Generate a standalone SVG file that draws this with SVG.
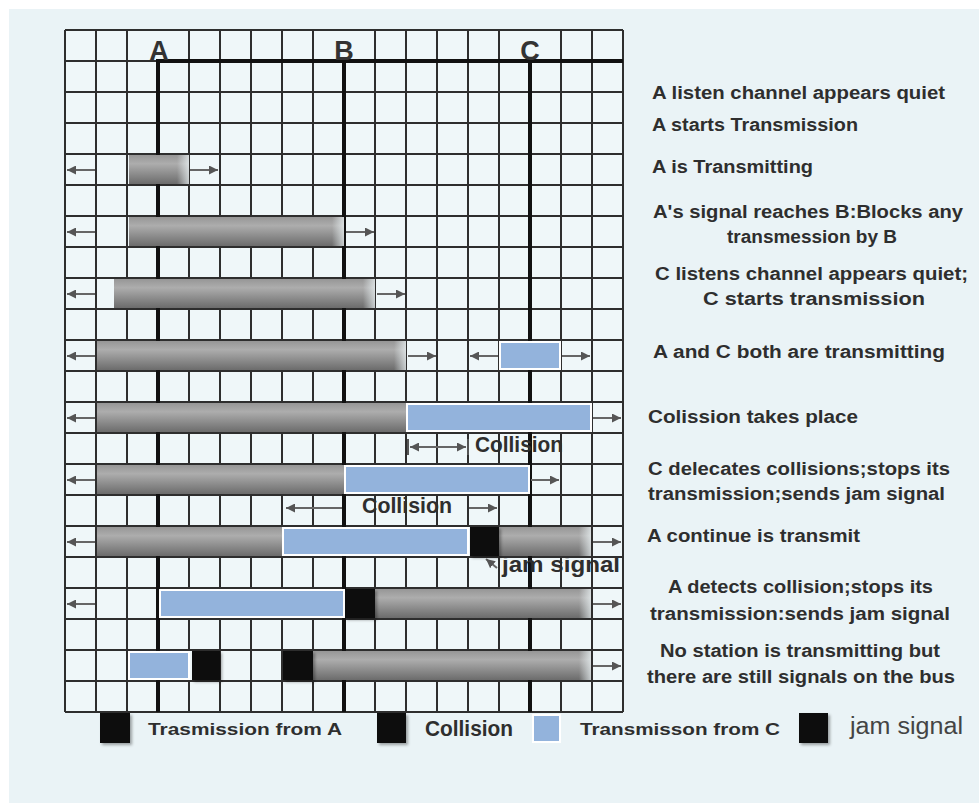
<svg xmlns="http://www.w3.org/2000/svg" width="979" height="803" viewBox="0 0 979 803">
  <defs>
    <linearGradient id="gBar" x1="0" y1="0" x2="0" y2="1">
      <stop offset="0" stop-color="#969696"/>
      <stop offset="0.3" stop-color="#adadad"/>
      <stop offset="1" stop-color="#6c6c6c"/>
    </linearGradient>
    <linearGradient id="gFade" x1="0" y1="0" x2="1" y2="0">
      <stop offset="0" stop-color="#eef6f8" stop-opacity="0"/>
      <stop offset="1" stop-color="#eef6f8" stop-opacity="0.7"/>
    </linearGradient>
    <marker id="head" viewBox="0 0 10 10" refX="10" refY="5" markerWidth="9" markerHeight="9" markerUnits="userSpaceOnUse" orient="auto-start-reverse">
      <path d="M0,0 L10,5 L0,10 z" fill="#555"/>
    </marker>
    <filter id="shadow" x="-20%" y="-20%" width="150%" height="150%">
      <feDropShadow dx="2" dy="2" stdDeviation="1.5" flood-color="#000" flood-opacity="0.35"/>
    </filter>
    <style>
      .grid { stroke: #2e2e2e; stroke-width: 2; fill: none; }
      .bus { stroke: #111; stroke-width: 4; fill: none; }
      .bar { fill: url(#gBar); }
      .fade { fill: url(#gFade); }
      .blue { fill: #93b3dc; stroke: #fff; stroke-width: 2; }
      .jam { fill: #111; filter: url(#shadow); }
      .arr { stroke: #666; stroke-width: 2; fill: none; marker-end: url(#head); }
      .arr2 { stroke: #666; stroke-width: 2; fill: none; marker-start: url(#head); marker-end: url(#head); }
      .tick { stroke: #555; stroke-width: 2; }
      .lbl { font-family: "Liberation Sans", Arial, sans-serif; font-weight: bold; font-size: 18px; fill: #2e2e2e; }
      .sta { font-family: "Liberation Sans", Arial, sans-serif; font-weight: bold; font-size: 27px; fill: #333; text-anchor: middle; }
      .note { font-family: "Liberation Sans", Arial, sans-serif; font-weight: bold; font-size: 22px; fill: #2e2e2e; }
      .leg { font-family: "Liberation Sans", Arial, sans-serif; font-weight: bold; font-size: 17px; fill: #2e2e2e; }
    </style>
  </defs>

  <!-- page and panel -->
  <rect x="0" y="0" width="979" height="803" fill="#ffffff"/>
  <rect x="9" y="9" width="970" height="794" fill="#eaf3f6"/>

  <!-- time grid: 18 columns x 22 rows of 31px; the station columns start below the header row -->
  <g id="grid">
    <rect x="65" y="30" width="558" height="682" fill="#eff7f9"/>
    <path class="grid" d="M65,30V712 M96,30V712 M127,30V712 M158,61V712 M189,30V712 M220,30V712 M251,30V712 M282,30V712 M313,30V712 M344,61V712 M375,30V712 M406,30V712 M437,30V712 M468,30V712 M499,30V712 M530,61V712 M561,30V712 M592,30V712 M623,30V712
      M65,30H623 M65,61H623 M65,92H623 M65,123H623 M65,154H623 M65,185H623 M65,216H623 M65,247H623 M65,278H623 M65,309H623 M65,340H623 M65,371H623 M65,402H623 M65,433H623 M65,464H623 M65,495H623 M65,526H623 M65,557H623 M65,588H623 M65,619H623 M65,650H623 M65,681H623 M65,712H623"/>
  </g>

  <!-- bus and station taps -->
  <g id="bus">
    <path class="bus" d="M158,712V61H623 M344,61V712 M530,61V712"/>
    <text class="sta" x="159" y="60">A</text>
    <text class="sta" x="344" y="60">B</text>
    <text class="sta" x="530" y="60">C</text>
  </g>

  <!-- signal bars, one group per time step -->
  <g id="t4">
    <rect class="bar" x="129" y="155" width="60" height="29"/>
    <rect class="fade" x="177" y="155" width="12" height="29"/>
  </g>
  <g id="t6">
    <rect class="bar" x="129" y="217" width="215" height="29"/>
    <rect class="fade" x="332" y="217" width="12" height="29"/>
  </g>
  <g id="t8">
    <rect class="bar" x="114" y="279" width="261" height="29"/>
    <rect class="fade" x="363" y="279" width="12" height="29"/>
  </g>
  <g id="t10">
    <rect class="bar" x="97" y="341" width="309" height="29"/>
    <rect class="fade" x="394" y="341" width="12" height="29"/>
    <rect class="blue" x="500" y="342" width="60" height="27"/>
  </g>
  <g id="t12">
    <rect class="bar" x="97" y="403" width="309" height="29"/>
    <rect class="blue" x="407" y="404" width="184" height="27"/>
  </g>
  <g id="t14">
    <rect class="bar" x="97" y="465" width="247" height="29"/>
    <rect class="blue" x="345" y="466" width="184" height="27"/>
  </g>
  <g id="t16">
    <rect class="bar" x="97" y="527" width="185" height="29"/>
    <rect class="blue" x="283" y="528" width="185" height="27"/>
    <rect class="bar" x="499" y="527" width="92" height="29"/>
    <rect class="fade" x="579" y="527" width="12" height="29"/>
    <rect class="jam" x="470" y="527" width="29" height="29"/>
  </g>
  <g id="t18">
    <rect class="blue" x="160" y="590" width="184" height="27"/>
    <rect class="bar" x="375" y="589" width="216" height="29"/>
    <rect class="fade" x="579" y="589" width="12" height="29"/>
    <rect class="jam" x="345" y="589" width="30" height="29"/>
  </g>
  <g id="t20">
    <rect class="blue" x="129" y="652" width="60" height="27"/>
    <rect class="jam" x="192" y="651" width="28" height="29"/>
    <rect class="bar" x="313" y="651" width="278" height="29"/>
    <rect class="fade" x="579" y="651" width="12" height="29"/>
    <rect class="jam" x="283" y="651" width="30" height="29"/>
  </g>

  <!-- propagation arrows -->
  <g id="connectors">
    <line class="arr" x1="95" y1="170" x2="67" y2="170"/>
    <line class="arr" x1="190" y1="170" x2="218" y2="170"/>
    <line class="arr" x1="95" y1="232" x2="67" y2="232"/>
    <line class="arr" x1="346" y1="232" x2="374" y2="232"/>
    <line class="arr" x1="95" y1="294" x2="67" y2="294"/>
    <line class="arr" x1="377" y1="294" x2="405" y2="294"/>
    <line class="arr" x1="95" y1="356" x2="67" y2="356"/>
    <line class="arr" x1="408" y1="356" x2="436" y2="356"/>
    <line class="arr" x1="498" y1="356" x2="470" y2="356"/>
    <line class="arr" x1="562" y1="356" x2="590" y2="356"/>
    <line class="arr" x1="95" y1="418" x2="67" y2="418"/>
    <line class="arr" x1="593" y1="418" x2="621" y2="418"/>
    <line class="arr2" x1="410" y1="447" x2="466" y2="447"/>
    <line class="tick" x1="408" y1="439" x2="408" y2="455"/>
    <line class="tick" x1="468" y1="439" x2="468" y2="455"/>
    <line class="arr" x1="95" y1="480" x2="67" y2="480"/>
    <line class="arr" x1="531" y1="480" x2="559" y2="480"/>
    <line class="arr" x1="342" y1="508" x2="286" y2="508"/>
    <line class="arr" x1="469" y1="508" x2="497" y2="508"/>
    <line class="arr" x1="95" y1="542" x2="67" y2="542"/>
    <line class="arr" x1="593" y1="542" x2="621" y2="542"/>
    <line class="arr" x1="497" y1="568" x2="486" y2="559"/>
    <line class="arr" x1="95" y1="604" x2="67" y2="604"/>
    <line class="arr" x1="593" y1="604" x2="621" y2="604"/>
    <line class="arr" x1="593" y1="666" x2="621" y2="666"/>
  </g>

  <!-- in-grid annotations -->
  <g id="notes">
    <text class="note" x="475" y="452" textLength="88" lengthAdjust="spacingAndGlyphs">Collision</text>
    <text class="note" x="362" y="513" textLength="90" lengthAdjust="spacingAndGlyphs">Collision</text>
    <text class="note" x="502" y="572" font-size="20" textLength="118" lengthAdjust="spacingAndGlyphs">jam signal</text>
  </g>

  <!-- step descriptions -->
  <g id="steps">
    <text class="lbl" x="652" y="99" textLength="293" lengthAdjust="spacingAndGlyphs">A listen channel appears quiet</text>
    <text class="lbl" x="652" y="131" textLength="206" lengthAdjust="spacingAndGlyphs">A starts Transmission</text>
    <text class="lbl" x="652" y="173" textLength="161" lengthAdjust="spacingAndGlyphs">A is Transmitting</text>
    <text class="lbl" x="653" y="218" textLength="310" lengthAdjust="spacingAndGlyphs">A's signal reaches B:Blocks any</text>
    <text class="lbl" x="727" y="243" textLength="170" lengthAdjust="spacingAndGlyphs">transmession by B</text>
    <text class="lbl" x="655" y="280" textLength="313" lengthAdjust="spacingAndGlyphs">C listens channel appears quiet;</text>
    <text class="lbl" x="703" y="305" textLength="222" lengthAdjust="spacingAndGlyphs">C starts transmission</text>
    <text class="lbl" x="653" y="358" textLength="292" lengthAdjust="spacingAndGlyphs">A and C both are transmitting</text>
    <text class="lbl" x="648" y="423" textLength="210" lengthAdjust="spacingAndGlyphs">Colission takes place</text>
    <text class="lbl" x="648" y="475" textLength="302" lengthAdjust="spacingAndGlyphs">C delecates collisions;stops its</text>
    <text class="lbl" x="648" y="500" textLength="297" lengthAdjust="spacingAndGlyphs">transmission;sends jam signal</text>
    <text class="lbl" x="647" y="542" textLength="213" lengthAdjust="spacingAndGlyphs">A continue is transmit</text>
    <text class="lbl" x="668" y="593" textLength="265" lengthAdjust="spacingAndGlyphs">A detects collision;stops its</text>
    <text class="lbl" x="650" y="620" textLength="300" lengthAdjust="spacingAndGlyphs">transmission:sends jam signal</text>
    <text class="lbl" x="660" y="657" textLength="280" lengthAdjust="spacingAndGlyphs">No station is transmitting but</text>
    <text class="lbl" x="647" y="683" textLength="308" lengthAdjust="spacingAndGlyphs">there are still signals on the bus</text>
  </g>

  <!-- legend -->
  <g id="legend">
    <rect class="jam" x="100" y="713" width="30" height="30"/>
    <text class="leg" x="148" y="735" textLength="194" lengthAdjust="spacingAndGlyphs">Trasmission from A</text>
    <rect class="jam" x="377" y="713" width="29" height="30"/>
    <text class="note" x="425" y="736" font-size="21" textLength="88" lengthAdjust="spacingAndGlyphs">Collision</text>
    <rect class="blue" x="533" y="715" width="27" height="27"/>
    <text class="leg" x="580" y="735" textLength="200" lengthAdjust="spacingAndGlyphs">Transmisson from C</text>
    <rect class="jam" x="799" y="713" width="29" height="30"/>
    <text x="850" y="734" font-family="Liberation Sans, Arial, sans-serif" font-size="23" fill="#444" textLength="113" lengthAdjust="spacingAndGlyphs">jam signal</text>
  </g>
</svg>
